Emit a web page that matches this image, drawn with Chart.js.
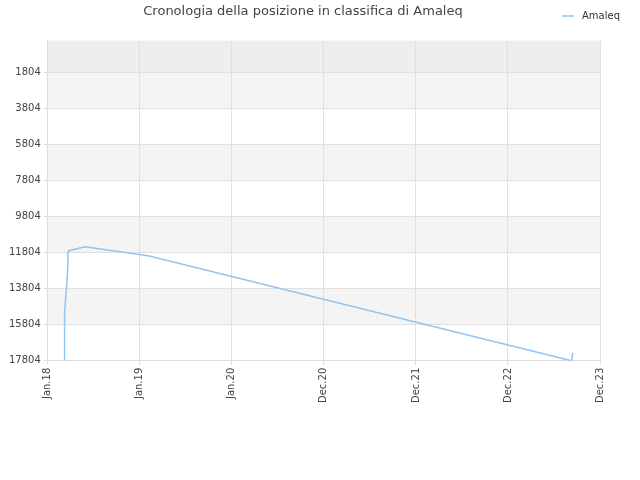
<!DOCTYPE html>
<html>
<head>
<meta charset="utf-8">
<script src="https://cdn.jsdelivr.net/npm/chart.js@4"></script>
<style>
  body { margin: 0; background: #fff; }
  #wrap { width: 640px; height: 480px; }
</style>
</head>
<body>
<div id="wrap"><canvas id="c"></canvas></div>
<script>
// x in "tick units": 0 = Jan.18 ... 6 = Dec.23
const xLabels = ["Jan.18", "Jan.19", "Jan.20", "Dec.20", "Dec.21", "Dec.22", "Dec.23"];
const yTicks = [1804, 3804, 5804, 7804, 9804, 11804, 13804, 15804, 17804];
const posX = [0.182, 0.182, 0.196, 0.207, 0.218, 0.218, 0.229, 0.404, 1.09, 5.69, 5.705];
const rank = [17804, 15137, 14193, 13470, 12526, 11804, 11693, 11470, 11970, 17804, 17360];

const bands = {
  id: "bands",
  beforeDraw(chart) {
    const { ctx, chartArea: a, scales: { y } } = chart;
    const edges = [y.min].concat(yTicks);
    ctx.save();
    for (let i = 0; i < edges.length - 1; i++) {
      const y0 = y.getPixelForValue(edges[i]), y1 = y.getPixelForValue(edges[i + 1]);
      ctx.fillStyle = i === 0 ? "#eeeeee" : (i % 2 === 1 ? "#f4f4f4" : "#ffffff");
      ctx.fillRect(a.left, y0, a.right - a.left, y1 - y0);
    }
    ctx.restore();
  }
};

new Chart(document.getElementById("c"), {
  type: "line",
  data: {
    datasets: [{
      label: "Amaleq",
      data: posX.map((x, i) => ({ x: x, y: rank[i] })),
      borderColor: "#90c4f4",
      backgroundColor: "#90c4f4",
      borderWidth: 1.5,
      pointRadius: 0,
      tension: 0
    }]
  },
  options: {
    responsive: true,
    maintainAspectRatio: false,
    animation: false,
    layout: { padding: { left: 6, right: 40, top: 0, bottom: 74 } },
    plugins: {
      title: {
        display: true,
        text: "Cronologia della posizione in classifica di Amaleq",
        color: "#444",
        font: { family: "DejaVu Sans", size: 13, weight: "normal" },
        padding: { top: 4, bottom: 21 }
      },
      legend: { display: false },
      tooltip: { enabled: false }
    },
    scales: {
      x: {
        type: "linear",
        min: 0,
        max: 6,
        afterBuildTicks: s => { s.ticks = xLabels.map((_, i) => ({ value: i })); },
        ticks: {
          callback: v => xLabels[v],
          maxRotation: 90,
          minRotation: 90,
          color: "#444",
          font: { family: "DejaVu Sans", size: 10 }
        },
        grid: { color: "#e0e0e0", drawTicks: true, tickLength: 4 },
        border: { color: "#dddddd" }
      },
      y: {
        reverse: true,
        min: 26,
        max: 17804,
        afterBuildTicks: s => { s.ticks = yTicks.map(v => ({ value: v })); },
        ticks: {
          callback: v => String(v),
          color: "#444",
          font: { family: "DejaVu Sans", size: 10 }
        },
        grid: { color: "#e0e0e0", tickLength: 4 },
        border: { color: "#dddddd" }
      }
    }
  },
  plugins: [bands, {
    id: "legendMark",
    afterDraw(chart) {
      const ctx = chart.ctx;
      ctx.save();
      ctx.strokeStyle = "#90c4f4";
      ctx.lineWidth = 1.5;
      ctx.beginPath(); ctx.moveTo(562, 16); ctx.lineTo(574, 16); ctx.stroke();
      ctx.fillStyle = "#333";
      ctx.font = "10px 'DejaVu Sans'";
      ctx.textBaseline = "middle";
      ctx.fillText("Amaleq", 582, 16);
      ctx.restore();
    }
  }]
});
</script>
</body>
</html>
